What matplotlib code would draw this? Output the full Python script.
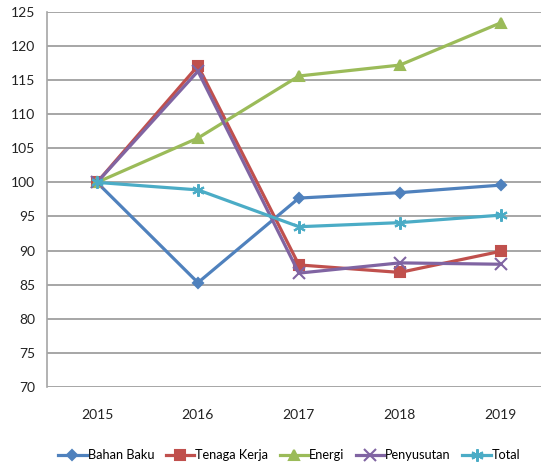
import matplotlib
matplotlib.use('Agg')
import matplotlib.pyplot as plt

# ---- data (index, 2015 = 100) ----
years = ['2015', '2016', '2017', '2018', '2019']
bahan_baku  = [100.0, 85.3, 97.7, 98.5, 99.6]
tenaga_kerja = [100.0, 117.1, 87.9, 86.8, 89.9]
energi      = [100.0, 106.5, 115.6, 117.2, 123.4]
penyusutan  = [100.0, 116.3, 86.7, 88.2, 88.0]
total       = [100.0, 98.9, 93.5, 94.1, 95.2]

series = [
    ('Bahan Baku',   bahan_baku,   '#4F81BD', 'D', 5.5),
    ('Tenaga Kerja', tenaga_kerja, '#C0504D', 's', 6.5),
    ('Energi',       energi,       '#9BBB59', '^', 7.5),
    ('Penyusutan',   penyusutan,   '#8064A2', 'x', 8),
    ('Total',        total,        '#4BACC6', (6, 2, 0), 9),
]

plt.rcParams['font.family'] = ['Lato', 'DejaVu Sans']

fig = plt.figure(figsize=(5.41, 4.66), dpi=100)
ax = fig.add_axes([0.086, 0.1695, 0.933, 0.805])

x = range(len(years))
for name, vals, col, mk, ms in series:
    ax.plot(x, vals, color=col, lw=2.3, marker=mk, markersize=ms,
            markeredgewidth=1.5, label=name, zorder=3)

ax.set_xlim(-0.5, 4.5)
ax.set_ylim(70, 125)
ax.set_yticks(range(70, 126, 5))
ax.set_xticks(list(x))
ax.set_xticklabels(years)
ax.grid(axis='y', color='#a6a6a6', lw=1.4)
ax.set_axisbelow(True)
for s in ['top', 'right', 'bottom']:
    ax.spines[s].set_visible(False)
ax.spines['left'].set_color('#a6a6a6')
ax.spines['left'].set_linewidth(1.2)
ax.tick_params(length=0, labelsize=10, colors='#222222')
ax.tick_params(axis='y', pad=8)
ax.tick_params(axis='x', pad=16)

fig.legend(loc='center', bbox_to_anchor=(0.535, 0.023), ncol=5, frameon=False,
           fontsize=9.2, handlelength=2.2, columnspacing=0.9, handletextpad=0.1,
           borderaxespad=0, borderpad=0)

fig.savefig('out.png', dpi=100)
